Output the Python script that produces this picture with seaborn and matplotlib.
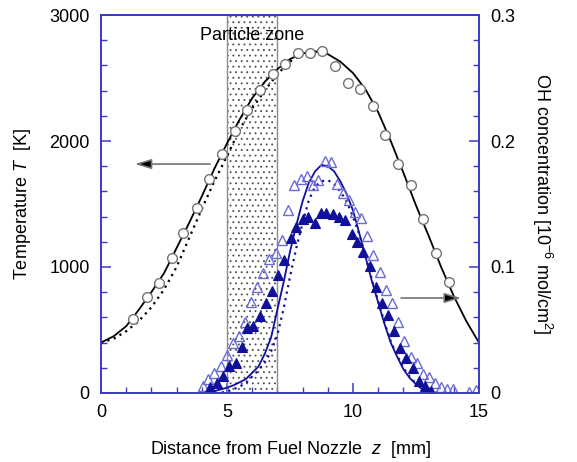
import numpy as np
import pandas as pd
import matplotlib.pyplot as plt
import seaborn as sns
from matplotlib.ticker import MultipleLocator

# measured temperature (open circles)
temp_z = [1.27, 1.82, 2.31, 2.81, 3.27, 3.82, 4.29, 4.79, 5.32, 5.78, 6.31, 6.81, 7.3,
          7.8, 8.29, 8.77, 9.29, 9.79, 10.28, 10.79, 11.27, 11.79, 12.3, 12.78, 13.29, 13.81]
temp_k = [587, 762, 873, 1071, 1270, 1468, 1698, 1897, 2079, 2246, 2405, 2532, 2611,
          2698, 2698, 2714, 2595, 2460, 2413, 2278, 2048, 1817, 1651, 1381, 1111, 881]

# computed temperature, solid and dotted
calc_z = [0, 0.5, 1, 1.5, 2, 2.5, 3, 3.5, 4, 4.5, 5, 5.5, 6, 6.5, 7, 7.5, 8, 8.5,
          9, 9.5, 10, 10.5, 11, 11.5, 12, 12.5, 13, 13.5, 14, 14.5, 15]
calc_t = [400, 450, 530, 660, 800, 950, 1150, 1350, 1560, 1780, 1980, 2170, 2340, 2470,
          2570, 2650, 2695, 2710, 2690, 2630, 2540, 2410, 2230, 2000, 1750, 1490, 1250,
          1000, 770, 570, 400]
calc2_z = [0, 0.5, 1, 1.5, 2, 2.5, 3, 3.5, 4, 4.5, 5, 5.5, 6, 6.5, 7, 7.5, 8, 8.5, 9]
calc2_t = [400, 430, 490, 570, 680, 820, 1000, 1230, 1460, 1680, 1880, 2090, 2260, 2400,
           2530, 2630, 2690, 2710, 2690]

# measured OH (open and filled triangles)
oh_open_z = [4.03, 4.26, 4.5, 4.75, 4.99, 5.23, 5.49, 5.7, 5.95, 6.18, 6.43, 6.68, 6.94,
             7.17, 7.43, 7.67, 7.92, 8.16, 8.4, 8.62, 8.89, 9.13, 9.35, 9.6, 9.85, 10.08,
             10.34, 10.57, 10.81, 11.07, 11.31, 11.56, 11.8, 12.04, 12.29, 12.53, 12.77,
             13.03, 13.25, 13.5, 13.75, 13.98, 14.62, 14.88]
oh_open = [0.0055, 0.011, 0.0156, 0.0214, 0.030, 0.040, 0.045, 0.0566, 0.0725, 0.084,
           0.095, 0.106, 0.111, 0.1215, 0.145, 0.165, 0.170, 0.172, 0.165, 0.169, 0.184,
           0.183, 0.166, 0.1585, 0.153, 0.144, 0.139, 0.1247, 0.1096, 0.0963, 0.0818,
           0.0717, 0.0566, 0.0415, 0.0288, 0.024, 0.0151, 0.013, 0.0077, 0.005, 0.003,
           0.003, 0.0005, 0.0024]
oh_fill_z = [4.33, 4.59, 4.83, 5.09, 5.35, 5.58, 5.81, 6.04, 6.31, 6.55, 6.8, 7.04, 7.27,
             7.53, 7.76, 8.0, 8.23, 8.48, 8.72, 8.95, 9.19, 9.44, 9.68, 9.95, 10.17, 10.41,
             10.67, 10.91, 11.14, 11.4, 11.64, 11.87, 12.12, 12.37, 12.61, 12.86, 13.1]
oh_fill = [0.0045, 0.0077, 0.0135, 0.0214, 0.024, 0.0368, 0.0518, 0.0532, 0.061, 0.0717,
           0.081, 0.0937, 0.1056, 0.1228, 0.1316, 0.138, 0.140, 0.135, 0.143, 0.143, 0.142,
           0.140, 0.137, 0.126, 0.120, 0.112, 0.101, 0.084, 0.0715, 0.062, 0.049, 0.0358,
           0.0278, 0.0196, 0.0093, 0.0053, 0.0015]

# computed OH, solid and dotted
oh_calc_z = [4.0, 4.25, 4.5, 4.75, 5.0, 5.25, 5.5, 5.75, 6.0, 6.25, 6.5, 6.75, 7.0, 7.25,
             7.5, 7.75, 8.0, 8.25, 8.5, 8.75, 9.0, 9.25, 9.5, 9.75, 10.0, 10.25, 10.5,
             10.75, 11.0, 11.25, 11.5, 11.75, 12.0, 12.25, 12.5, 12.75, 13.0, 13.25, 13.5]
oh_calc = [0.0, 0.0008, 0.0015, 0.0028, 0.0042, 0.006, 0.0085, 0.011, 0.016, 0.021, 0.031,
           0.044, 0.066, 0.088, 0.112, 0.133, 0.152, 0.167, 0.176, 0.181, 0.180, 0.176,
           0.168, 0.158, 0.145, 0.127, 0.108, 0.089, 0.072, 0.055, 0.040, 0.029, 0.019,
           0.012, 0.007, 0.003, 0.0015, 0.0003, 0.0]
oh_calc2 = [0.0, 0.0, 0.0, 0.0003, 0.001, 0.003, 0.005, 0.008, 0.013, 0.018, 0.024, 0.033,
            0.046, 0.067, 0.092, 0.115, 0.135, 0.153, 0.164, 0.168, 0.169, 0.166, 0.160,
            0.152, 0.140, 0.126, 0.109, 0.090, 0.073, 0.056, 0.041, 0.030, 0.020, 0.013,
            0.0075, 0.0035, 0.0015, 0.0003, 0.0]

zone = (5, 7)

sns.set_style('ticks')
plt.rcParams['font.family'] = ['Liberation Sans', 'DejaVu Sans']
plt.rcParams['mathtext.fontset'] = 'custom'
plt.rcParams['mathtext.rm'] = 'Liberation Sans'
plt.rcParams['mathtext.it'] = 'Liberation Sans:italic'
plt.rcParams['hatch.linewidth'] = 0.6
plt.rcParams['text.color'] = 'black'
plt.rcParams['axes.labelcolor'] = 'black'

blue_axis = '#3c3cc8'
navy = '#10109a'
light_blue = '#6b6bd6'

fig = plt.figure(figsize=(5.77, 4.62), dpi=100)
ax = fig.add_axes([0.175, 0.1494, 0.655, 0.8181])
ax2 = ax.twinx()

# particle zone
ax.axvspan(*zone, facecolor='white', edgecolor='0.3', hatch='...', lw=0, zorder=0)
ax.axvspan(*zone, facecolor='none', edgecolor='0.55', lw=1.0, zorder=1)
ax.text(6.0, 2840, 'Particle zone', ha='center', va='center', fontsize=13)

# temperature
sns.lineplot(x=calc_z, y=calc_t, ax=ax, color='black', lw=1.3, sort=False, estimator=None)
sns.lineplot(x=calc2_z, y=calc2_t, ax=ax, color='black', lw=1.6, ls=(0, (1, 2)),
             sort=False, estimator=None)
sns.lineplot(x=temp_z, y=temp_k, ax=ax, marker='o', ls='', ms=7, mfc='white',
             mec='0.45', mew=1.0, sort=False, estimator=None, zorder=5)

# OH
sns.lineplot(x=oh_calc_z, y=oh_calc, ax=ax2, color=navy, lw=1.3, sort=False, estimator=None)
sns.lineplot(x=oh_calc_z, y=oh_calc2, ax=ax2, color=navy, lw=1.6, ls=(0, (1, 2)),
             sort=False, estimator=None)
sns.lineplot(x=oh_open_z, y=oh_open, ax=ax2, marker='^', ls='', ms=7, mfc='none',
             mec=light_blue, mew=1.0, sort=False, estimator=None)
sns.lineplot(x=oh_fill_z, y=oh_fill, ax=ax2, marker='^', ls='', ms=7, mfc=navy,
             mec=navy, mew=0.8, sort=False, estimator=None)

# arrows pointing to the matching axis
arrow = dict(arrowstyle='-|>,head_length=1.0,head_width=0.3', fc='black', ec='0.45', lw=1.2)
ax.annotate('', xy=(1.23, 1817), xytext=(4.44, 1817), arrowprops=arrow)
ax.annotate('', xy=(14.4, 754), xytext=(11.8, 754), arrowprops=arrow)

ax.set_xlim(0, 15)
ax.set_ylim(0, 3000)
ax2.set_ylim(0, 0.3)
ax.xaxis.set_major_locator(MultipleLocator(5))
ax.xaxis.set_minor_locator(MultipleLocator(1))
ax.yaxis.set_major_locator(MultipleLocator(1000))
ax.yaxis.set_minor_locator(MultipleLocator(200))
ax2.set_yticks([0, 0.1, 0.2, 0.3])
ax2.set_yticklabels(['0', '0.1', '0.2', '0.3'])
ax2.yaxis.set_minor_locator(MultipleLocator(0.02))

for a in (ax, ax2):
    for s in a.spines.values():
        s.set_color(blue_axis)
        s.set_linewidth(1.3)
        s.set_visible(True)
    a.tick_params(which='both', direction='in', color=blue_axis, labelsize=13,
                  labelcolor='black', pad=8)
    a.tick_params(which='major', length=7, width=1.1)
    a.tick_params(which='minor', length=4, width=1.0)
ax.tick_params(axis='y', right=False)
ax2.tick_params(axis='y', left=False)

ax.set_xlabel('Distance from Fuel Nozzle  $z$  [mm]', fontsize=13, labelpad=13)
ax.set_ylabel('Temperature $T$  [K]', fontsize=13, labelpad=12)
ax2.set_ylabel('OH concentration [10$^{-6}$ mol/cm$^{2}$]', fontsize=13, rotation=270,
               labelpad=28)

fig.savefig('out.png', dpi=100)
